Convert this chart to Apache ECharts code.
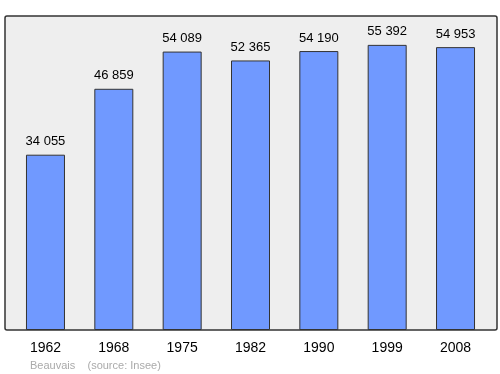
<!DOCTYPE html>
<html>
<head>
<meta charset="utf-8">
<script src="https://cdn.jsdelivr.net/npm/echarts@6/dist/echarts.min.js"></script>
<style>
  html, body { margin: 0; padding: 0; background: #fff; }
  #main { width: 500px; height: 374px; }
</style>
</head>
<body>
<div id="main"></div>
<script>
// population de Beauvais
var years = ['1962', '1968', '1975', '1982', '1990', '1999', '2008'];
var population = [34055, 46859, 54089, 52365, 54190, 55392, 54953];

function fmt(v) {
  return String(v).replace(/\B(?=(\d{3})+(?!\d))/g, ' ');
}

var myChart = echarts.init(document.getElementById('main'));
myChart.setOption({
  animation: false,
  textStyle: { fontFamily: 'Liberation Sans, Arial, sans-serif' },
  graphic: [
    {
      type: 'rect',
      z: -10,
      shape: { x: 5, y: 16, width: 492, height: 314, r: 2 },
      style: { fill: '#eeeeee', stroke: '#333', lineWidth: 1.5 }
    },
    {
      type: 'text',
      left: 30, top: 360,
      style: { text: 'Beauvais    (source: Insee)', fill: '#aaaaaa', font: '11px Liberation Sans, Arial, sans-serif' }
    }
  ],
  grid: { left: 11.3, right: 10.3, top: 16, bottom: 44, containLabel: false },
  xAxis: {
    type: 'category',
    data: years,
    axisLine: { show: false },
    axisTick: { show: false },
    axisLabel: { color: '#000', fontSize: 14, margin: 11 }
  },
  yAxis: {
    type: 'value',
    min: 0,
    max: 61000,
    show: false
  },
  series: [{
    type: 'bar',
    data: population,
    barWidth: 39,
    itemStyle: { color: '#7099ff', borderColor: '#333', borderWidth: 1 },
    label: {
      show: true,
      position: 'top',
      distance: 6.5,
      color: '#000',
      fontSize: 13,
      formatter: function (p) { return fmt(p.value); }
    }
  }]
});
</script>
</body>
</html>
